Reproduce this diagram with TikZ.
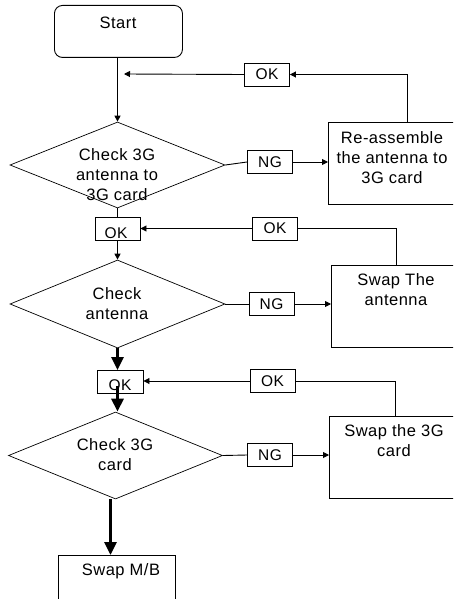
\documentclass[tikz,border=0pt]{standalone}
\usepackage{fontspec}
\setmainfont[LetterSpace=3]{Liberation Sans}
\usetikzlibrary{shapes.geometric,arrows.meta}
\begin{document}
\begin{tikzpicture}[x=1pt,y=-1pt,line width=0.9pt,
  txt/.style={font=\fontsize{16.5}{20}\selectfont,align=center,inner sep=0pt},
  box/.style={draw,rectangle,inner sep=0pt,anchor=north west},
  dia/.style={draw,diamond,inner sep=0pt,line width=0.7pt},
  tag/.style={draw,rectangle,inner sep=0pt,minimum width=45pt,minimum height=23pt,font=\fontsize{15.5}{18}\selectfont},
  thin/.style={-{Triangle[length=6pt,width=6pt]}},
  thick/.style={line width=3pt,-{Triangle[length=13pt,width=12pt]}}]
\clip (0,0) rectangle (453,599);
\fill[white] (0,0) rectangle (453,599);
% nodes
\node[box,rounded corners=8pt,minimum width=128pt,minimum height=52pt] (start) at (54,5) {};
\node[txt] (tstart) at (118,23) {Start};
\node[dia,minimum width=215pt,minimum height=86pt] (d1) at (117.5,165) {};
\node[txt] (td1) at (117,175) {Check 3G\\antenna to\\3G card};
\node[tag] (ng1) at (270,162) {NG};
\node[box,minimum width=140pt,minimum height=82pt] (r1) at (328,122) {};
\node[txt] (tr1) at (392,158) {Re-assemble\\the antenna to\\3G card};
\node[tag] (okl1) at (267,74.5) {OK};
\node[tag] (ok2) at (117.5,228.5) {};
\node[font=\fontsize{15.5}{18}\selectfont,inner sep=0pt] (tok2) at (116,233) {OK};
\node[tag] (okl2) at (275,228.5) {OK};
\node[dia,minimum width=215pt,minimum height=88pt] (d2) at (117.5,304) {};
\node[txt] (td2) at (117,304) {Check\\antenna};
\node[tag] (ng2) at (271.5,304) {NG};
\node[box,minimum width=140pt,minimum height=82pt] (r2) at (331,265) {};
\node[txt] (tr2) at (396,290) {Swap The\\antenna};
\node[tag,minimum width=46pt] (ok3) at (120,382) {};
\node[font=\fontsize{15.5}{18}\selectfont,inner sep=0pt] (tok3) at (120,385) {OK};
\node[tag] (okl3) at (272.5,381) {OK};
\node[dia,minimum width=214pt,minimum height=87pt] (d3) at (115.5,455.5) {};
\node[txt] (td3) at (115,454.5) {Check 3G\\card};
\node[tag] (ng3) at (270,455) {NG};
\node[box,minimum width=140pt,minimum height=82pt] (r3) at (329,416) {};
\node[txt] (tr3) at (394,441) {Swap the 3G\\card};
\node[box,minimum width=117pt,minimum height=60pt] (mb) at (58,555) {};
\node[txt] (tmb) at (121,571) {Swap M/B};
% connectors
\coordinate (m1) at (124,74);
\draw[thin] (start.south -| d1.north) -- (d1.north);
\draw[thin] ([xshift=79pt]r1.north west) |- (okl1.east);
\draw[thin] (okl1.west) -- (m1);
\draw (d1.east) -- (ng1.west);
\draw[thin] (ng1.east) -- (ng1.east -| r1.west);
\draw (d1.south) -- (d1.south |- ok2.north);
\draw[thin] (ok2.south) -- (ok2.south |- d2.north);
\draw ([xshift=65pt]r2.north west) |- (okl2.east);
\draw[thin] (okl2.west) -- (okl2.west -| ok2.east);
\draw (d2.east) -- (ng2.west);
\draw[thin] (ng2.east) -- (ng2.east -| r2.west);
\draw[thick] (d2.south) -- (d2.south |- ok3.north);
\draw ([xshift=66pt]r3.north west) |- (okl3.east);
\draw[thin] (okl3.west) -- (okl3.west -| ok3.east);
\draw[thick] ([yshift=8pt]ok3.south -| d2.south) -- (d3.north -| d2.south);
\draw (d3.east) -- (ng3.west);
\draw[thin] (ng3.east) -- (ng3.east -| r3.west);
\draw[thick] ([xshift=-5pt]d3.south) -- ([xshift=-5pt]d3.south |- mb.north);
\end{tikzpicture}
\end{document}
